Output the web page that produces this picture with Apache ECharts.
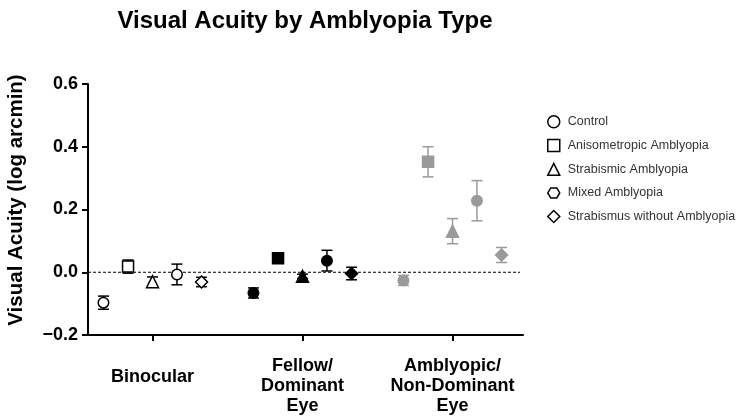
<!DOCTYPE html>
<html>
<head>
<meta charset="utf-8">
<script src="https://cdn.jsdelivr.net/npm/echarts@6/dist/echarts.min.js"></script>
<style>html,body{margin:0;padding:0;background:#fff}#c{width:738px;height:419px}</style>
</head>
<body>
<div id="c"></div>
<script>
// Categories (group positions on the x axis are 1, 2, 3)
const groupLabels = ['Binocular', 'Fellow/\nDominant\nEye', 'Amblyopic/\nNon-Dominant\nEye'];
const seriesNames = ['Control', 'Anisometropic Amblyopia', 'Strabismic Amblyopia', 'Mixed Amblyopia', 'Strabismus without Amblyopia'];
const yTicks = [-0.2, 0.0, 0.2, 0.4, 0.6];

// Means and error (half-length) per group: [Binocular, Fellow, Amblyopic]
const controlMean = [-0.097, -0.066, -0.026];
const controlErr  = [0.021, 0.016, 0.016];
const anisoMean   = [0.018, 0.045, 0.352];
const anisoErr    = [0.021, 0.008, 0.048];
const strabMean   = [-0.030, -0.013, 0.131];
const strabErr    = [0.015, 0.007, 0.040];
const mixedMean   = [-0.007, 0.037, 0.228];
const mixedErr    = [0.033, 0.033, 0.064];
const strabNoMean = [-0.031, -0.004, 0.055];
const strabNoErr  = [0.015, 0.020, 0.024];

const allMeans = [controlMean, anisoMean, strabMean, mixedMean, strabNoMean];
const allErrs = [controlErr, anisoErr, strabErr, mixedErr, strabNoErr];
const offsets = [-0.327, -0.163, 0, 0.163, 0.327];
const groupFill = ['#ffffff', '#000000', '#9a9a9a'];
const groupStroke = ['#000000', '#000000', '#9a9a9a'];
const hexPath = 'path://M3,0 L9,0 L12,5 L9,10 L3,10 L0,5 Z';
const plotSymbols = ['circle', 'rect', 'triangle', 'circle', 'diamond'];
const plotSizes = [10.5, 11, 12, 10.5, 12];
const legendIcons = ['circle', 'rect', 'triangle', hexPath, 'diamond'];
const FONT = 'Liberation Sans, Arial, sans-serif';

const series = [];
// zero dashed line
series.push({
  type: 'line', silent: true, symbol: 'none', z: 1,
  data: [[0.57, 0], [3.45, 0]],
  lineStyle: { color: '#000', width: 1, type: [3, 2] }
});
// error bars
const errData = [];
for (let s = 0; s < 5; s++) {
  for (let g = 0; g < 3; g++) {
    errData.push({ value: [g + 1 + offsets[s], allMeans[s][g], allErrs[s][g]], stroke: groupStroke[g] });
  }
}
series.push({
  type: 'custom', silent: true, z: 2,
  data: errData,
  renderItem: function (params, api) {
    const x = api.value(0), y = api.value(1), e = api.value(2);
    const top = api.coord([x, y + e]);
    const bot = api.coord([x, y - e]);
    const col = errData[params.dataIndex].stroke;
    const w = 5.5;
    const st = { stroke: col, lineWidth: 1.5 };
    return {
      type: 'group',
      children: [
        { type: 'line', shape: { x1: top[0], y1: top[1], x2: bot[0], y2: bot[1] }, style: st },
        { type: 'line', shape: { x1: top[0] - w, y1: top[1], x2: top[0] + w, y2: top[1] }, style: st },
        { type: 'line', shape: { x1: bot[0] - w, y1: bot[1], x2: bot[0] + w, y2: bot[1] }, style: st }
      ]
    };
  }
});
// markers
for (let s = 0; s < 5; s++) {
  series.push({
    name: seriesNames[s],
    type: 'scatter', z: 10,
    symbol: plotSymbols[s],
    symbolSize: plotSizes[s],
    itemStyle: { color: '#fff', borderColor: '#000', borderWidth: 1.5, opacity: 1 },
    data: [0, 1, 2].map(g => ({
      value: [g + 1 + offsets[s], allMeans[s][g]],
      itemStyle: { color: groupFill[g], borderColor: groupStroke[g], borderWidth: 1.5, opacity: 1 }
    }))
  });
}

const chart = echarts.init(document.getElementById('c'), null, { renderer: 'canvas' });
chart.setOption({
  animation: false,
  backgroundColor: '#fff',
  title: {
    text: 'Visual Acuity by Amblyopia Type',
    left: 300, top: 4, textAlign: 'center',
    textStyle: { fontFamily: FONT, fontWeight: 'bold', fontSize: 24, color: '#000' }
  },
  legend: {
    orient: 'vertical', left: 542, top: 110,
    itemWidth: 12, itemHeight: 12, itemGap: 10.3,
    textStyle: { fontFamily: FONT, fontSize: 12.5, color: '#333', padding: [0, 0, 0, 3] },
    data: seriesNames.map((n, i) => ({
      name: n, icon: legendIcons[i],
      itemStyle: { color: '#fff', borderColor: '#000', borderWidth: 1.5, opacity: 1 }
    }))
  },
  graphic: [{
    type: 'text', rotation: Math.PI / 2, x: 16, y: 200,
    style: { text: 'Visual Acuity (log arcmin)', fontFamily: FONT, fontWeight: 'bold', fontSize: 20.5, fill: '#000', align: 'center', verticalAlign: 'middle' }
  }],
  grid: { left: 88, right: 215, top: 84, bottom: 84, containLabel: false },
  xAxis: {
    type: 'value', min: 0.57, max: 3.47,
    splitLine: { show: false },
    axisLine: { onZero: false, lineStyle: { color: '#000', width: 2 } },
    axisTick: { show: true, length: 6, customValues: [1, 2, 3], lineStyle: { color: '#000', width: 2 } },
    axisLabel: {
      customValues: [1, 2, 3],
      margin: 21,
      color: '#000', fontFamily: FONT, fontWeight: 'bold', fontSize: 18, lineHeight: 20,
      formatter: function (v) {
        const i = Math.round(v) - 1;
        if (i === 0) return '{bin|' + groupLabels[0] + '}';
        return groupLabels[i];
      },
      rich: { bin: { lineHeight: 42, fontSize: 18, fontWeight: 'bold', color: '#000', fontFamily: FONT } }
    }
  },
  yAxis: {
    type: 'value', min: -0.2, max: 0.6, interval: 0.2,
    splitLine: { show: false },
    axisLine: { show: true, onZero: false, lineStyle: { color: '#000', width: 2 } },
    axisTick: { show: true, length: 6, lineStyle: { color: '#000', width: 2 } },
    axisLabel: {
      margin: 10, color: '#000', fontFamily: FONT, fontWeight: 'bold', fontSize: 18,
      formatter: function (v) { return v < 0 ? '\u2212' + Math.abs(v).toFixed(1) : v.toFixed(1); }
    }
  },
  series: series
});
</script>
</body>
</html>
